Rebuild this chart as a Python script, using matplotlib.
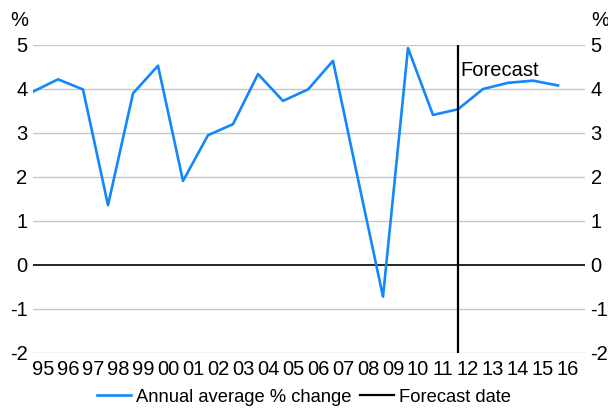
import matplotlib
matplotlib.use('Agg')
import matplotlib.pyplot as plt
from matplotlib import font_manager
import numpy as np

years = ['95', '96', '97', '98', '99', '00', '01', '02', '03', '04', '05',
         '06', '07', '08', '09', '10', '11', '12', '13', '14', '15', '16']
growth = [3.94, 4.22, 3.99, 1.36, 3.90, 4.53, 1.91, 2.95, 3.20, 4.34, 3.73,
          3.99, 4.64, 1.95, -0.72, 4.93, 3.41, 3.54, 4.00, 4.14, 4.19, 4.08]
forecast_year = '12'
yticks = [-2, -1, 0, 1, 2, 3, 4, 5]

names = {f.name for f in font_manager.fontManager.ttflist}
font = 'Liberation Sans Narrow' if 'Liberation Sans Narrow' in names else 'Liberation Sans'
plt.rcParams['font.family'] = [font, 'DejaVu Sans']
fs = 14.5

fig = plt.figure(figsize=(6.08, 4.08), dpi=100)
ax = fig.add_axes([33/608, 55/408, 552/608, 308/408])

x = np.arange(len(years))
blue = '#1487fa'
ax.plot(x, growth, color=blue, lw=1.9, label='Annual average % change', zorder=3)

fx = years.index(forecast_year)
ax.axvline(fx, color='black', lw=1.6, label='Forecast date', zorder=4)
ax.text(fx + 0.08, 4.3, 'Forecast', fontsize=fs, va='baseline', ha='left')

for v in yticks:
    ax.axhline(v, color='black' if v == 0 else '#c8c8c8', lw=1.2 if v == 0 else 1.0, zorder=1)

ax.set_xlim(0, 22.08)
ax.set_ylim(-2, 5)
ax.set_xticks(x + 0.4)
ax.set_xticklabels(years, fontsize=fs)
ax.set_yticks(yticks)
ax.set_yticklabels([str(v) for v in yticks], fontsize=fs)
ax.tick_params(length=0, pad=4)
ax.tick_params(axis='x', pad=5)
for s in ax.spines.values():
    s.set_visible(False)

ax2 = ax.twinx()
ax2.set_ylim(-2, 5)
ax2.set_yticks(yticks)
ax2.set_yticklabels([str(v) for v in yticks], fontsize=fs)
ax2.tick_params(length=0, pad=4)
for s in ax2.spines.values():
    s.set_visible(False)

fig.text(10/608, 1 - 20/408, '%', fontsize=fs, va='center', ha='left')
fig.text(591/608, 1 - 20/408, '%', fontsize=fs, va='center', ha='left')

fig.legend(loc='center', bbox_to_anchor=(0.5, 1 - 397/408), ncol=2, frameon=False,
           fontsize=13.2, handlelength=1.85, handletextpad=0.3, columnspacing=0.45)

fig.savefig('out.png', dpi=100)
